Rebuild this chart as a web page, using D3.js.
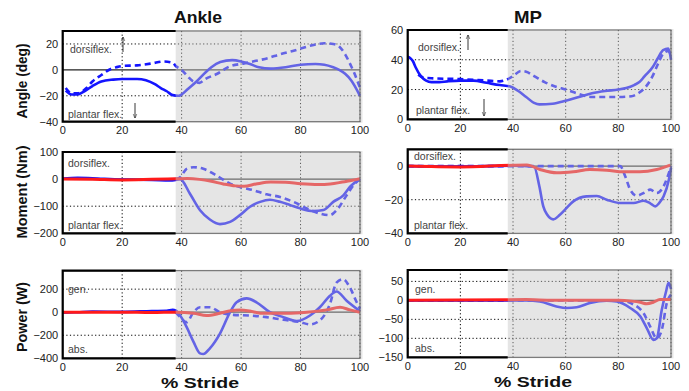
<!DOCTYPE html>
<html>
<head>
<meta charset="utf-8">
<script src="https://cdnjs.cloudflare.com/ajax/libs/d3/7.8.5/d3.min.js"></script>
<style>
  body { margin: 0; background: #fff; }
  text { font-family: "Liberation Sans", Arial, sans-serif; }
</style>
</head>
<body>
<svg class="graph" width="689" height="391"></svg>
<script>
//======
// Data
//======

var strideTicks = [0, 20, 40, 60, 80, 100];
var shadeStart = 38; // % stride where the grey part begins

var ankleAngleTicks = [-40, -20, 0, 20];
var mpAngleTicks = [0, 20, 40, 60];
var ankleMomentTicks = [-200, -100, 0, 100];
var mpMomentTicks = [-40, -20, 0];
var anklePowerTicks = [-400, -200, 0, 200];
var mpPowerTicks = [-150, -100, -50, 0, 50];

var ankleAngleSolid = [[1,-16],[3,-19],[5,-19],[7,-17],[10,-12.5],[13,-9],[17,-7.5],[20,-7],[25,-7],[28,-8],[31,-11],[33,-14],[35,-16.5],[37,-19.5],[39,-20],[40,-19],[42,-15],[45,-9],[48,-2],[50,2],[53,6],[57,7.5],[60,6.5],[63,4.5],[66,2],[70,1],[75,2],[80,4],[85,4.5],[88,4],[91,2],[93,0],[95,-3],[97,-8],[100,-20]];
var ankleAngleDashed = [[1,-14],[3,-18],[5,-18],[8,-14],[10,-9],[13,-4],[16,0.5],[18,2],[20,3],[25,3.5],[30,5],[34,6.5],[37,5.5],[38,3],[40,0],[42,-5],[44,-9],[46,-10],[48,-7],[52,-3],[56,2.5],[61,5],[65,7],[69,9],[73,12],[78,15],[84,19],[88,20.5],[91,20],[93,18],[95,12],[97,3],[98,-2],[100,-14]];

var mpAngleSolid = [[0,42],[1,41],[2,39],[3,35],[5,29],[7,26],[9,25],[12,25],[15,25.5],[20,26],[25,26],[30,24.5],[35,23],[39,22],[42,19],[45,15],[48,11],[50,10],[55,10.5],[60,12.5],[65,15],[70,17.5],[75,19],[80,20],[83,21],[86,23],[88,25],[90,29],[93,35],[95,41],[97,46.5],[99,47.5],[100,40]];
var mpAngleDashed = [[4,30],[6,28],[10,27.5],[20,27],[30,26],[35,25.5],[38,27],[40,29],[43,32.5],[45,32],[48,29],[52,25],[56,22],[60,20],[65,17],[70,15],[75,15],[80,15],[85,15.5],[88,18],[90,21],[93,29],[95,37],[97,44],[99,46],[100,42]];

var ankleMomentSolid = [[0,2],[5,5],[10,3],[20,-2],[30,-3],[36,-5],[38,-3],[39.5,0],[42.8,-54],[46.2,-115],[49.5,-149],[52.9,-166],[56.3,-158],[59.6,-133],[63,-102],[66.4,-84],[69.7,-76],[73.1,-84],[76.5,-96],[79.8,-108],[84.3,-118],[87.7,-114],[91,-84],[94.4,-60],[96.6,-29],[100,1]];
var ankleMomentDashed = [[38,0],[39.5,7],[41.7,38],[44,44],[47.3,38],[51.8,13],[56.3,-17],[59.6,-29],[64.1,-41],[68.6,-56],[73.1,-66],[77.6,-84],[82.1,-108],[86.5,-127],[89.9,-133],[92.1,-115],[95.5,-60],[97.8,-23],[100,0]];
var ankleMomentRed = [[0,0],[10,-1],[20,-3],[30,-1],[38,1],[42,2],[46,-1],[50,-8],[54,-18],[58,-25],[61,-26],[65,-18],[70,-11],[75,-12],[80,-17],[86,-20],[90,-18],[94,-11],[97,-5],[100,1]];

var mpMomentSolid = [[0,0],[20,-0.3],[40,0.3],[48,-0.4],[50,-12],[51.5,-24],[53,-29],[55.3,-31.7],[57.8,-29],[60,-25.5],[62.9,-21],[67.9,-18],[71.8,-17.8],[75.6,-20],[80.7,-22],[85.8,-22],[89.6,-20.6],[92,-22],[94,-24],[95.5,-22],[97.2,-18],[99.2,-8],[100,-1]];
var mpMomentDashed = [[0,0],[40,0],[60,0],[80.7,0],[82.6,-6],[84.5,-14],[87,-17.6],[89.6,-16],[92.1,-14],[94.6,-16],[97.2,-12],[99.2,-4],[100,0]];
var mpMomentRed = [[0,0],[20,-0.5],[40,0.5],[45.3,0.6],[50.2,-2],[56.6,-4],[62.9,-3.4],[69.2,-2],[75.6,-2.4],[81.9,-3.4],[88.2,-3.4],[94.6,-2],[99.7,0.6]];

var anklePowerSolid = [[0,-5],[5,0],[10,5],[20,3],[30,10],[35,12],[37,20],[38,15],[39.5,-29],[41.7,-129],[44,-257],[46.2,-357],[47.3,-363],[49.5,-314],[52.9,-186],[56.3,0],[58.5,86],[61.9,120],[65.2,86],[69.7,0],[74.2,-43],[78.7,-77],[83.2,-29],[86.5,43],[89.9,143],[92.1,180],[95.5,100],[100,9]];
var anklePowerDashed = [[38,0],[39.5,-43],[41.7,-86],[44,0],[46.2,43],[49.5,43],[52.9,0],[57.4,-23],[63,-29],[68.6,-43],[74.2,-66],[79.8,-86],[83.2,-106],[86.5,-71],[89.9,71],[92.1,257],[94.4,286],[96.6,214],[98.9,86],[100,29]];
var anklePowerRed = [[0,0],[10,0],[20,0],[30,-3],[38,0],[44,-9],[48.4,-29],[52.9,-9],[56,10],[59.6,20],[63,10],[66.4,-9],[75.4,-9],[82.1,0],[88.8,20],[93.3,43],[96.6,20],[100,0]];

var mpPowerSolid = [[0,0],[45,0],[50.2,-3],[56.5,-16],[60.4,-20],[64.2,-18],[69.2,-7],[75.6,-1],[79.4,-3],[84.5,-20],[88.3,-42],[90.8,-73],[93.3,-104],[94.6,-100],[96.5,-25],[98,20],[99.1,46],[100,30]];
var mpPowerDashed = [[0,0],[80,0],[85.8,-11],[89.6,-34],[92.1,-69],[94.6,-100],[96.5,-78],[98.4,-7],[100,15]];
var mpPowerRed = [[0,0],[45,2],[50,1],[60,0],[80,0],[85,-2],[88.3,-5],[90.8,-9],[93.3,-5],[95.8,2],[100,2]];

//========
// Layout
//========

var blue = "#1414ff", red = "#ff1a1a";
var ankleCol = {left: 62.7, right: 360};
var mpCol = {left: 407.7, right: 671};

var panels = [
  {col: ankleCol, top: 31, bottom: 121.7, domain: [-40, 30], ticks: ankleAngleTicks,
   lines: [[ankleAngleDashed, blue, true], [ankleAngleSolid, blue, false]],
   notes: [["dorsiflex.", 70, 53], ["plantar flex.", 68, 118]],
   arrows: [[123, 52, 37], [135, 103, 118]]},
  {col: mpCol, top: 30, bottom: 119.3, domain: [0, 60], ticks: mpAngleTicks,
   lines: [[mpAngleDashed, blue, true], [mpAngleSolid, blue, false]],
   notes: [["dorsiflex.", 418, 51], ["plantar flex.", 416, 114]],
   arrows: [[468, 50, 35], [484, 99, 116]]},
  {col: ankleCol, top: 152, bottom: 233.3, domain: [-200, 100], ticks: ankleMomentTicks,
   lines: [[ankleMomentDashed, blue, true], [ankleMomentSolid, blue, false], [ankleMomentRed, red, false]],
   notes: [["dorsiflex.", 68, 167], ["plantar flex.", 68, 229]], arrows: []},
  {col: mpCol, top: 149.3, bottom: 233.3, domain: [-40, 10], ticks: mpMomentTicks,
   lines: [[mpMomentDashed, blue, true], [mpMomentSolid, blue, false], [mpMomentRed, red, false]],
   notes: [["dorsiflex.", 414, 160], ["plantar flex.", 414, 229]], arrows: []},
  {col: ankleCol, top: 270.7, bottom: 358.3, domain: [-400, 360], ticks: anklePowerTicks,
   lines: [[anklePowerDashed, blue, true], [anklePowerSolid, blue, false], [anklePowerRed, red, false]],
   notes: [["gen.", 68, 293], ["abs.", 68, 353]], arrows: []},
  {col: mpCol, top: 270, bottom: 357.3, domain: [-150, 80], ticks: mpPowerTicks,
   lines: [[mpPowerDashed, blue, true], [mpPowerSolid, blue, false], [mpPowerRed, red, false]],
   notes: [["gen.", 415, 293], ["abs.", 415, 352]], arrows: []}
];

var svg = d3.select(".graph");

svg.append("defs").append("marker")
  .attr("id", "head")
  .attr("viewBox", "0 0 10 10")
  .attr("refX", 9).attr("refY", 5)
  .attr("markerWidth", 5).attr("markerHeight", 6)
  .attr("orient", "auto")
  .append("path")
  .attr("d", "M0,1L10,5L0,9")
  .attr("fill", "none")
  .attr("stroke", "#222")
  .attr("stroke-width", 1.2);

panels.forEach(drawPanel);

function drawPanel(p) {
  var x = d3.scaleLinear().domain([0, 100]).range([p.col.left, p.col.right]);
  var y = d3.scaleLinear().domain(p.domain).range([p.bottom, p.top]);
  var g = svg.append("g");

  // dotted grid
  g.selectAll(".vgrid")
    .data(strideTicks.filter(function (d) { return d > 0; }))
    .enter().append("line")
    .attr("x1", function (d) { return x(d); })
    .attr("x2", function (d) { return x(d); })
    .attr("y1", p.top).attr("y2", p.bottom)
    .attr("stroke", "#000").attr("stroke-width", 1)
    .attr("stroke-dasharray", "1.2,2.4");

  g.selectAll(".hgrid")
    .data(p.ticks.filter(function (d) { return d !== 0 && d > p.domain[0] && d < p.domain[1]; }))
    .enter().append("line")
    .attr("x1", x(0)).attr("x2", x(100))
    .attr("y1", function (d) { return y(d); })
    .attr("y2", function (d) { return y(d); })
    .attr("stroke", "#000").attr("stroke-width", 1)
    .attr("stroke-dasharray", "1.2,2.4");

  if (p.domain[0] < 0) {
    g.append("line")
      .attr("x1", x(0)).attr("x2", x(100))
      .attr("y1", y(0)).attr("y2", y(0))
      .attr("stroke", "#222").attr("stroke-width", 1.2);
  }

  // curves
  var line = d3.line()
    .x(function (d) { return x(d[0]); })
    .y(function (d) { return y(d[1]); })
    .curve(d3.curveMonotoneX);

  p.lines.forEach(function (s) {
    g.append("path")
      .datum(s[0])
      .attr("d", line)
      .attr("fill", "none")
      .attr("stroke", s[1])
      .attr("stroke-width", s[1] === red ? 3 : 2.6)
      .attr("stroke-linejoin", "round")
      .attr("stroke-dasharray", s[2] ? "6,4" : null);
  });

  // frame
  g.append("rect")
    .attr("x", x(0)).attr("y", p.top)
    .attr("width", x(100) - x(0)).attr("height", p.bottom - p.top)
    .attr("fill", "none").attr("stroke", "#111").attr("stroke-width", 1);

  g.append("path")
    .attr("d", "M" + x(shadeStart) + "," + p.top + "H" + x(0) + "V" + p.bottom + "H" + x(shadeStart))
    .attr("fill", "none").attr("stroke", "#000").attr("stroke-width", 2.2);

  // grey wash over the second part of the stride
  g.append("rect")
    .attr("x", x(shadeStart)).attr("y", p.top - 1)
    .attr("width", x(100) - x(shadeStart) + 2.5).attr("height", p.bottom - p.top + 2)
    .attr("fill", "#c6c6c6").attr("fill-opacity", 0.45);

  // tick labels
  g.selectAll(".xlab")
    .data(strideTicks)
    .enter().append("text")
    .attr("x", function (d) { return x(d); })
    .attr("y", p.bottom + 12.5)
    .attr("text-anchor", "middle")
    .attr("font-size", 11)
    .attr("fill", "#222")
    .text(function (d) { return d; });

  g.selectAll(".ylab")
    .data(p.ticks)
    .enter().append("text")
    .attr("x", x(0) - 4.5)
    .attr("y", function (d) { return y(d) + 4; })
    .attr("text-anchor", "end")
    .attr("font-size", 11)
    .attr("fill", "#222")
    .text(function (d) { return d < 0 ? "\u2212" + (-d) : d; });

  // annotations
  p.notes.forEach(function (n) {
    g.append("text")
      .attr("x", n[1]).attr("y", n[2])
      .attr("font-size", 10.5)
      .attr("fill", "#444")
      .text(n[0]);
  });

  p.arrows.forEach(function (a) {
    g.append("line")
      .attr("x1", a[0]).attr("x2", a[0])
      .attr("y1", a[1]).attr("y2", a[2])
      .attr("stroke", "#222").attr("stroke-width", 0.9)
      .attr("marker-end", "url(#head)");
  });
}

// titles and axis names
var bold = "'Open Sans', 'Noto Sans', sans-serif";

[["Ankle", 198, 48], ["MP", 528, 28]].forEach(function (t) {
  svg.append("text")
    .attr("x", t[1]).attr("y", 23)
    .attr("text-anchor", "middle")
    .attr("font-family", bold).attr("font-weight", "bold").attr("font-size", 17)
    .attr("fill", "#111")
    .attr("textLength", t[2]).attr("lengthAdjust", "spacingAndGlyphs")
    .text(t[0]);
});

[[200, 388], [533, 387]].forEach(function (t) {
  svg.append("text")
    .attr("x", t[0]).attr("y", t[1])
    .attr("text-anchor", "middle")
    .attr("font-family", bold).attr("font-weight", "bold").attr("font-size", 15)
    .attr("fill", "#111")
    .attr("textLength", 78).attr("lengthAdjust", "spacingAndGlyphs")
    .text("% Stride");
});

[["Angle (deg)", 81, 75], ["Moment (Nm)", 192, 93], ["Power (W)", 317, 70]].forEach(function (t) {
  svg.append("text")
    .attr("transform", "translate(27," + t[1] + ") rotate(-90)")
    .attr("text-anchor", "middle")
    .attr("font-family", bold).attr("font-weight", "bold").attr("font-size", 14)
    .attr("fill", "#111")
    .attr("textLength", t[2]).attr("lengthAdjust", "spacingAndGlyphs")
    .text(t[0]);
});
</script>
</body>
</html>
